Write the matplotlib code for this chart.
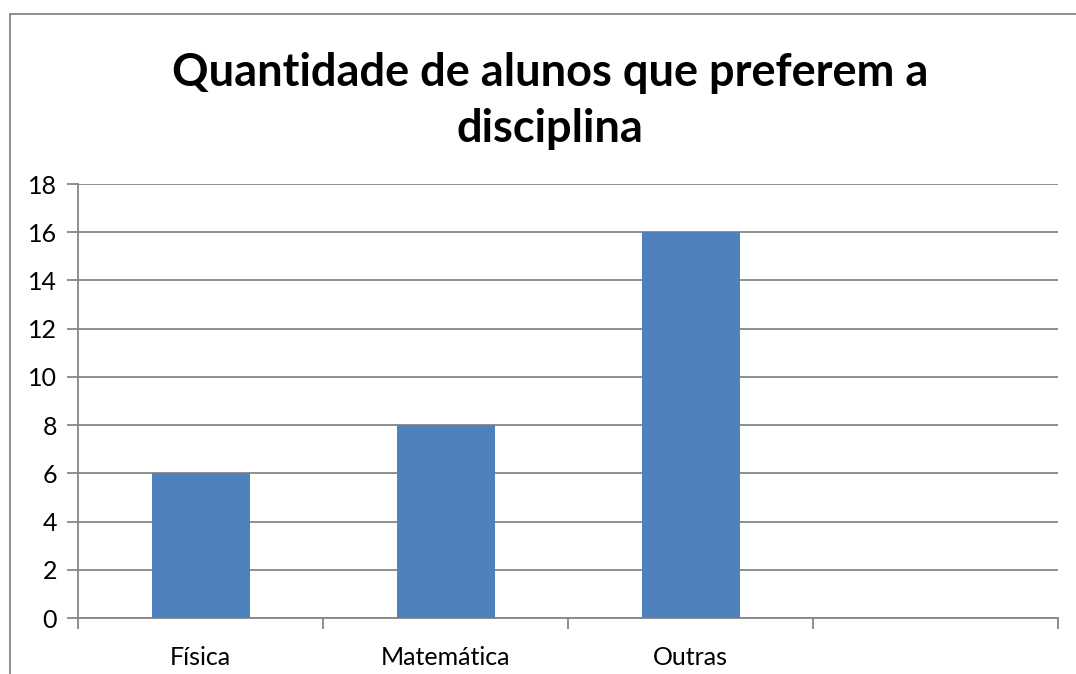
import matplotlib
matplotlib.use("Agg")
import matplotlib.pyplot as plt
from matplotlib.lines import Line2D
from matplotlib.ticker import FixedLocator, NullFormatter

categories = ["Física", "Matemática", "Outras", ""]
values = [6, 8, 16, None]
yticks = [0, 2, 4, 6, 8, 10, 12, 14, 16, 18]
title = "Quantidade de alunos que preferem a\ndisciplina"

plt.rcParams['font.family'] = ['Lato', 'DejaVu Sans']

W, H = 1076, 674
fig = plt.figure(figsize=(W / 100, H / 100), dpi=100)
fig.patch.set_facecolor("white")

ax = fig.add_axes([78 / W, 1 - 618 / H, (1058 - 78) / W, (618 - 184) / H])

xs = list(range(len(categories)))
bx = [x for x, v in zip(xs, values) if v is not None]
bv = [v for v in values if v is not None]
ax.bar(bx, bv, width=0.4, color="#4F81BD", zorder=3)

ax.set_xlim(-0.5, len(categories) - 0.5)
ax.set_ylim(0, 18)
ax.set_yticks(yticks)
ax.set_yticklabels([str(t) for t in yticks], fontsize=18)
ax.yaxis.grid(True, color="#868686", linewidth=1.3, zorder=0)
ax.set_axisbelow(True)

ax.xaxis.set_major_locator(FixedLocator([i - 0.5 for i in range(len(categories) + 1)]))
ax.xaxis.set_major_formatter(NullFormatter())
ax.xaxis.set_minor_locator(FixedLocator(xs))
ax.set_xticklabels(categories, minor=True, fontsize=18)
ax.tick_params(axis="x", which="major", length=8, width=1.3, color="#868686", direction="out")
ax.tick_params(axis="x", which="minor", length=0, pad=20)
ax.tick_params(axis="y", length=8, width=1.3, color="#868686", pad=7)

for s in ["top", "right"]:
    ax.spines[s].set_visible(False)
for s in ["left", "bottom"]:
    ax.spines[s].set_color("#868686")
    ax.spines[s].set_linewidth(1.3)

fig.text(0.5 + 12 / W, 1 - 101 / H, title, ha="center", va="center",
         fontsize=32.5, fontweight="bold", linespacing=1.42)

# outer chart frame
fx = 9.5 / W
fy = 1 - 13.5 / H
fig.add_artist(Line2D([fx, fx], [0, fy], transform=fig.transFigure, color="#868686", lw=1.3))
fig.add_artist(Line2D([fx, 1.0], [fy, fy], transform=fig.transFigure, color="#868686", lw=1.3))

fig.savefig("out.png", dpi=100, facecolor="white")
